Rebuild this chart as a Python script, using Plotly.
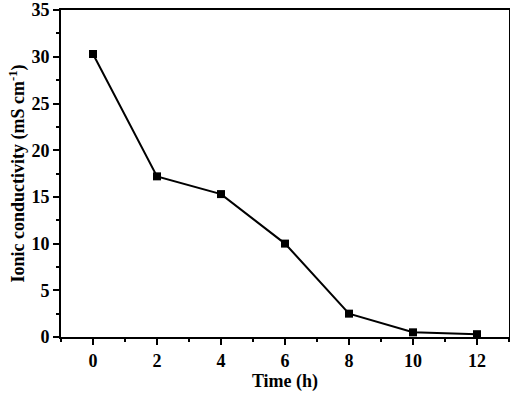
import plotly.graph_objects as go

time_h = [0, 2, 4, 6, 8, 10, 12]
conductivity = [30.3, 17.2, 15.3, 10.0, 2.5, 0.5, 0.3]
x_ticks = [0, 2, 4, 6, 8, 10, 12]
y_ticks = [0, 5, 10, 15, 20, 25, 30, 35]

font = dict(family="Liberation Serif, Times New Roman, serif", size=18, color="black")

fig = go.Figure()
fig.add_trace(go.Scatter(
    x=time_h, y=conductivity, mode="lines+markers",
    line=dict(color="black", width=2),
    marker=dict(symbol="square", size=8, color="black"),
    showlegend=False,
))

fig.update_layout(
    width=510, height=393,
    margin=dict(l=61, r=1, t=10, b=56),
    plot_bgcolor="white", paper_bgcolor="white",
    font=font,
)
fig.update_xaxes(
    range=[-1, 13], tickvals=x_ticks, ticktext=[f"<b>{v}</b>" for v in x_ticks],
    showgrid=False, zeroline=False, automargin=False,
    showline=True, linecolor="black", linewidth=2, mirror=True,
    ticks="outside", ticklen=6, tickwidth=2, tickcolor="black",
    minor=dict(dtick=1, ticks="outside", ticklen=3, tickwidth=2, tickcolor="black", showgrid=False),
    title=dict(text="<b>Time (h)</b>", font=dict(size=18), standoff=4),
    tickfont=dict(size=18),
)
fig.update_yaxes(
    range=[0, 35.01], tickvals=y_ticks, ticktext=[f"<b>{v}</b>" for v in y_ticks],
    showgrid=False, zeroline=False, automargin=False,
    showline=True, linecolor="black", linewidth=2, mirror=True,
    ticks="outside", ticklen=6, tickwidth=2, tickcolor="black",
    ticklabeloverflow="allow",
    minor=dict(dtick=2.5, ticks="outside", ticklen=3, tickwidth=2, tickcolor="black", showgrid=False),
    title=dict(text="<b>Ionic conductivity (mS cm<sup>-1</sup>)</b>", font=dict(size=18), standoff=2),
    tickfont=dict(size=18),
)

fig.write_html("out.html", config={"displayModeBar": False},
               post_script="document.body.style.margin='0px';document.body.style.overflow='hidden';")
